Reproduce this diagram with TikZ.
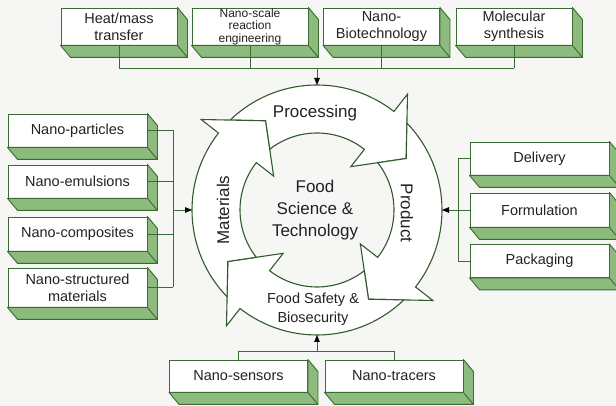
\documentclass[tikz,border=0pt]{standalone}
\usepackage{fontspec}
\setmainfont{Liberation Sans}
\usetikzlibrary{positioning,arrows.meta,calc}

\definecolor{edgegreen}{HTML}{3A6B34}
\definecolor{sidegreen}{HTML}{8DBB7E}
\definecolor{ringgreen}{HTML}{34592F}
\definecolor{paper}{HTML}{F6F6F4}
\definecolor{ink}{HTML}{222222}

\tikzset{
  nbox/.style={draw=edgegreen, line width=0.9pt, fill=white, align=center,
    inner sep=0pt, text=ink, font=\fontsize{14.5}{17}\selectfont},
  topbox/.style={nbox, minimum width=116pt, minimum height=37pt},
  sidebox/.style={nbox, minimum width=139pt, minimum height=33pt},
  face/.style={fill=sidegreen, draw=edgegreen, line width=0.9pt, line join=round},
  conn/.style={draw=edgegreen, line width=0.9pt},
  feed/.style={conn, -{Triangle[length=7pt,width=5.5pt,color=black]}},
  ringarrow/.style={draw=ringgreen, line width=1.1pt, fill=white, line join=miter},
  ringlabel/.style={text=ink, font=\fontsize{17}{22}\selectfont}
}

\begin{document}
\begin{tikzpicture}[x=1pt,y=1pt]
\useasboundingbox (0,0) rectangle (616,406);
\clip (0,0) rectangle (616,406);
\fill[paper] (0,0) rectangle (616,406);

% top row
\node[topbox] (heat) at (119,379.5) {Heat/mass\\transfer};
\node[topbox, font=\fontsize{12}{12.5}\selectfont] (scale) at (250,379.5) {Nano-scale\\reaction\\engineering};
\node[topbox] (biotech) at (381.5,379.5) {Nano-\\Biotechnology};
\node[topbox] (molsyn) at (514,379.5) {Molecular\\synthesis};

% left column
\node[sidebox] (particles) at (77.5,275.5) {Nano-particles};
\node[sidebox] (emuls) at (77.5,224.5) {Nano-emulsions};
\node[sidebox, minimum height=34pt] (compos) at (77.5,172) {Nano-composites};
\node[sidebox, minimum height=39pt] (structd) at (77.5,118.5) {Nano-structured\\materials};

% right column
\node[sidebox] (deliv) at (539.5,247.5) {Delivery};
\node[sidebox, minimum height=34pt] (formul) at (539.5,196) {Formulation};
\node[sidebox] (packag) at (539.5,145) {Packaging};

% bottom row
\node[sidebox, minimum width=138pt, minimum height=32pt] (sensors) at (238.5,30) {Nano-sensors};
\node[sidebox, minimum width=138pt, minimum height=32pt] (tracers) at (394,30) {Nano-tracers};

% 3d sides
\foreach \b in {heat,scale,biotech,molsyn,particles,emuls,compos,structd,deliv,formul,packag,sensors,tracers}{
  \filldraw[face] (\b.north east) -- ++(10,-12) -- ($(\b.south east)+(10,-12)$)
    -- ($(\b.south west)+(10,-12)$) -- (\b.south west) -- (\b.south east) -- cycle;
  \draw[face] (\b.south east) -- ++(10,-12);
}

% the ring
\node[circle, minimum size=250pt, inner sep=0pt, outer sep=0pt] (ring) at (317,196) {};
\foreach \r in {0,-90,-180,-270}{
  \begin{scope}[shift={(317,196)}, rotate=\r]
    \draw[ringarrow] (134:125pt) arc[start angle=134, end angle=52, radius=125pt]
      -- (52:147pt) -- (30:103pt) -- (52:55pt) -- (52:77pt)
      arc[start angle=52, end angle=127.9, radius=77pt] -- (120:103pt) -- cycle;
  \end{scope}
}
\node[ringlabel] (proc) at (315,293) {Processing};
\node[ringlabel, rotate=90] (mater) at (223,196) {Materials};
\node[ringlabel, rotate=-90] (prod) at (407,193) {Product};
\node[ringlabel, align=center] (core) at (315,196) {Food\\Science \&\\Technology};
\node[text=ink, align=center, font=\fontsize{14.5}{19}\selectfont] (safety) at (313,96.5) {Food Safety \&\\Biosecurity};

% connectors
\coordinate (topbus) at (317,338);
\coordinate (leftbus) at (173,196);
\coordinate (rightbus) at (458,196);
\coordinate (botbus) at (317,55);

\foreach \b in {heat,scale,biotech,molsyn}
  \draw[conn] (\b.south) -- (\b.south |- topbus);
\draw[conn] (heat.south |- topbus) -- (molsyn.south |- topbus);
\draw[feed] (topbus) -- (ring.north);

\foreach \b in {particles,emuls,compos,structd}
  \draw[conn] (\b.east) -- (\b.east -| leftbus);
\draw[conn] (particles.east -| leftbus) -- (structd.east -| leftbus);
\draw[feed] (leftbus) -- (ring.west);

\foreach \b in {deliv,formul,packag}
  \draw[conn] (\b.west) -- (\b.west -| rightbus);
\draw[conn] (deliv.west -| rightbus) -- (packag.west -| rightbus);
\draw[feed] (rightbus) -- (ring.east);

\foreach \b in {sensors,tracers}
  \draw[conn] (\b.north) -- (\b.north |- botbus);
\draw[conn] (sensors.north |- botbus) -- (tracers.north |- botbus);
\draw[feed] (botbus) -- (ring.south);
\end{tikzpicture}
\end{document}
